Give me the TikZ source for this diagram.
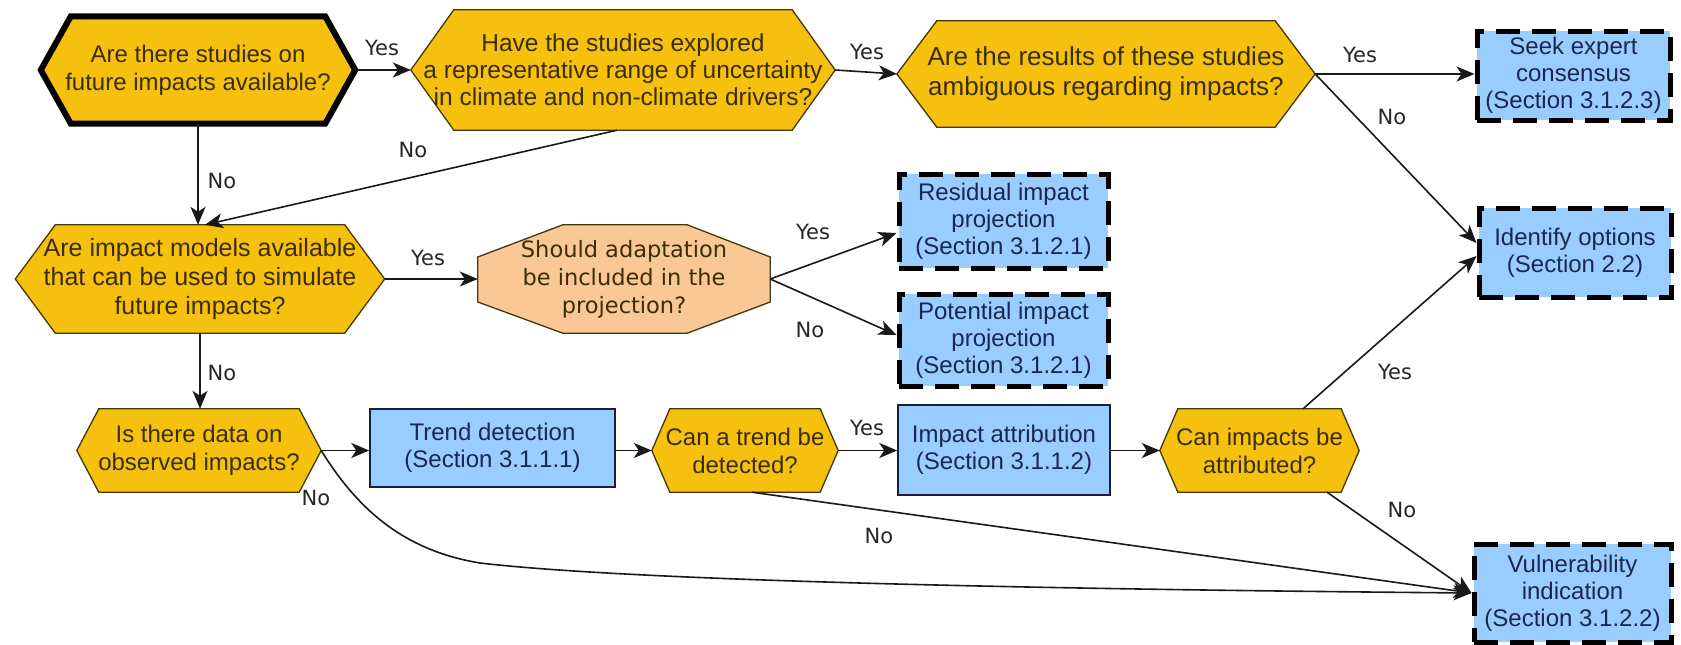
\documentclass[tikz,border=0pt]{standalone}
\usepackage{fontspec}
\setmainfont{Liberation Sans}
\newfontfamily\dvfont{DejaVu Sans}
\usetikzlibrary{arrows.meta,backgrounds}
\definecolor{yfill}{RGB}{246,193,14}
\definecolor{yline}{RGB}{70,55,10}
\definecolor{ytext}{RGB}{60,45,10}
\definecolor{bfill}{RGB}{153,204,255}
\definecolor{bline}{RGB}{25,30,60}
\definecolor{btext}{RGB}{25,40,80}
\definecolor{pfill}{RGB}{250,200,150}
\newcommand\hexshape[3]{%
  \begin{scope}[on background layer]
  \draw[#3] (#1.west) -- ([xshift=#2]#1.north west) -- ([xshift=-#2]#1.north east) -- (#1.east) -- ([xshift=-#2]#1.south east) -- ([xshift=#2]#1.south west) -- cycle;
  \end{scope}}
\tikzset{
  box/.style={rectangle, inner sep=0pt, align=center},
  ynode/.style={box, text=ytext, font=\fontsize{24}{28}\selectfont},
  bnode/.style={box, text=btext, font=\fontsize{24}{27}\selectfont},
  solidbox/.style={bnode, fill=bfill, draw=bline, line width=1.5pt},
  dashbox/.style={bnode, fill=bfill, draw=black, line width=5pt, dash pattern=on 24pt off 12pt},
  yhex/.style={fill=yfill, draw=yline, line width=1.3pt},
  lbl/.style={font=\dvfont\fontsize{21}{24}\selectfont, text=black!85, inner sep=0pt},
  arr/.style={draw=black!90, line width=1.6pt, -{Stealth[length=18pt,width=15pt,inset=5pt]}},
}
\begin{document}
\begin{tikzpicture}[x=1pt,y=-1pt]
\useasboundingbox (0,0) rectangle (1681,645);

% nodes
\node[ynode, minimum width=314, minimum height=107] (A) at (198,70) {Are there studies on\\future impacts available?};
\node[ynode, minimum width=424, minimum height=120, font=\fontsize{24.5}{27}\selectfont] (B) at (623,70) {Have the studies explored\\a representative range of uncertainty\\in climate and non-climate drivers?};
\node[ynode, minimum width=418, minimum height=106, font=\fontsize{26}{30}\selectfont] (C) at (1106,74) {Are the results of these studies\\ambiguous regarding impacts?};
\node[dashbox, minimum width=193, minimum height=89] (D) at (1573.5,75.5) {Seek expert\\consensus\\(Section 3.1.2.3)};
\node[dashbox, minimum width=192, minimum height=89] (Id) at (1575,252.5) {Identify options\\(Section 2.2)};
\node[dashbox, minimum width=209, minimum height=94] (Res) at (1003.5,221) {Residual impact\\projection\\(Section 3.1.2.1)};
\node[dashbox, minimum width=209, minimum height=92] (Pot) at (1003.5,340) {Potential impact\\projection\\(Section 3.1.2.1)};
\node[ynode, minimum width=369, minimum height=108, font=\fontsize{25}{29}\selectfont] (E) at (200,279) {Are impact models available\\that can be used to simulate\\future impacts?};
\node[box, minimum width=292, minimum height=108, text=ytext, font=\dvfont\fontsize{22.5}{28}\selectfont] (O) at (624,279) {Should adaptation\\be included in the\\projection?};
\node[ynode, minimum width=244, minimum height=83] (F) at (199,450.5) {Is there data on\\observed impacts?};
\node[solidbox, minimum width=245, minimum height=78] (G) at (492.5,448) {Trend detection\\(Section 3.1.1.1)};
\node[ynode, minimum width=186, minimum height=83] (H) at (745,450.5) {Can a trend be\\detected?};
\node[solidbox, minimum width=212, minimum height=90] (I) at (1004,450) {Impact attribution\\(Section 3.1.1.2)};
\node[ynode, minimum width=199, minimum height=83] (J) at (1259.5,450.5) {Can impacts be\\attributed?};
\node[dashbox, minimum width=197, minimum height=98] (K) at (1572.5,593) {Vulnerability\\indication\\(Section 3.1.2.2)};

% shapes behind
\hexshape{A}{30pt}{fill=yfill, draw=black, line width=6pt, line join=miter}
\hexshape{B}{43pt}{yhex}
\hexshape{C}{40pt}{yhex}
\hexshape{E}{40pt}{yhex}
\hexshape{F}{22pt}{yhex}
\hexshape{H}{18pt}{yhex}
\hexshape{J}{18pt}{yhex}
\begin{scope}[on background layer]
\draw[fill=pfill, draw=yline, line width=1.3pt] ([yshift=22pt]O.west) -- ([xshift=85pt]O.north west) -- ([xshift=-83pt]O.north east) -- ([yshift=22pt]O.east) -- ([yshift=-23pt]O.east) -- ([xshift=-83pt]O.south east) -- ([xshift=85pt]O.south west) -- ([yshift=-23pt]O.west) -- cycle;
\end{scope}

% connectors
\draw[arr] (A.east) -- (B.west);
\draw[arr] (B.east) -- (C.west);
\draw[arr] (C.east) -- (C.east -| D.west);
\draw[arr] (C.east) -- ([yshift=9.5pt]Id.west);
\draw[arr] (A.south) -- (A.south |- E.north);
\draw[arr] ([xshift=-6pt]B.south) -- ([xshift=5pt]E.north);
\draw[arr] (E.east) -- (O.west);
\draw[arr] (O.east) -- ([yshift=-12pt]Res.west);
\draw[arr] (O.east) -- ([yshift=5pt]Pot.west);
\draw[arr] (E.south) -- (E.south |- F.north);
\draw[arr] (F.east) -- (F.east -| G.west);
\draw[arr] (G.east |- F.east) -- (H.west);
\draw[arr] (H.east) -- (H.east -| I.west);
\draw[arr] (I.east |- J.west) -- (J.west);
\draw[arr] ([xshift=43.5pt]J.north) -- ([yshift=-3.5pt]Id.west);
\draw[arr] ([xshift=67.5pt]J.south) -- (K.west);
\draw[arr] ([xshift=7pt]H.south) -- (K.west);
\draw[arr] (F.east) .. controls (355,505) and (400,550) .. (480,563) .. controls (600,577) and (900,588) .. (K.west);

% labels
\node[lbl] (l1) at (382,48) {Yes};
\node[lbl] (l2) at (867,52) {Yes};
\node[lbl] (l3) at (1360,55) {Yes};
\node[lbl] (l4) at (1392,117) {No};
\node[lbl] (l5) at (222,181) {No};
\node[lbl] (l6) at (413,150) {No};
\node[lbl] (l7) at (428,258) {Yes};
\node[lbl] (l8) at (813,232) {Yes};
\node[lbl] (l9) at (810,330) {No};
\node[lbl] (l10) at (222,373) {No};
\node[lbl] (l11) at (316,498) {No};
\node[lbl] (l12) at (867,428) {Yes};
\node[lbl] (l13) at (879,536) {No};
\node[lbl] (l14) at (1395,372) {Yes};
\node[lbl] (l15) at (1402,510) {No};
\end{tikzpicture}
\end{document}
